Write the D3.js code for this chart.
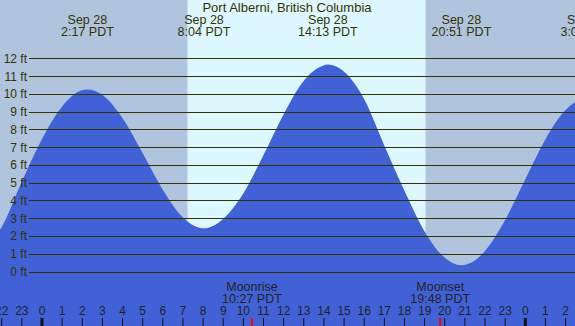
<!DOCTYPE html>
<html>
<head>
<meta charset="utf-8">
<script src="https://cdn.jsdelivr.net/npm/d3@7"></script>
<style>
  body { margin: 0; background: #fff; }
  svg { display: block; font-family: "Liberation Sans", Arial, sans-serif; }
</style>
</head>
<body>
<div class="chart"></div>
<script>
// tide heights (hours from midnight Sep 28, feet)
let tideHours = [-2.5, -2, -1, 0, 1, 2, 2.28, 3, 4, 5, 6, 7, 8.07, 9, 10, 11, 12, 13, 14, 14.22,
  15, 16, 17, 18, 19, 20, 20.85, 22, 23, 24, 25, 26, 27.08, 27.5];
let tideFeet = [1.7, 2.45, 5.0, 7.4, 9.25, 10.2, 10.25, 9.96, 8.67, 6.71, 4.65, 3.07, 2.43, 2.94, 4.35, 6.5, 8.8, 10.7, 11.6, 11.65,
  11.27, 9.75, 7.15, 4.6, 2.3, 0.8, 0.35, 1.12, 2.85, 5.13, 7.39, 9.06, 9.74, 9.6];

// high / low tide labels
let eventHours = [2.28, 8.07, 14.22, 20.85, 27.08];
let eventDates = ["Sep 28", "Sep 28", "Sep 28", "Sep 28", "Sep 29"];
let eventTimes = ["2:17 PDT", "8:04 PDT", "14:13 PDT", "20:51 PDT", "3:05 PDT"];

// sunrise / sunset
let daylight = [7.25, 19.07];

// moon
let moonHours = [10.45, 19.8];
let moonNames = ["Moonrise", "Moonset"];
let moonTimes = ["10:27 PDT", "19:48 PDT"];

let footTicks = d3.range(0, 13);
let hourTicks = d3.range(-2, 27);

let width = 575;
let height = 326;
let dark = "#333300";

let xScale = d3.scaleLinear().domain([-2, 26]).range([1.2, 565.1]);
let yScale = d3.scaleLinear().domain([0, 12]).range([271.5, 58.3]);

let svg = d3.select(".chart").append("svg")
  .attr("width", width)
  .attr("height", height);

// night / day background
svg.append("rect")
  .attr("width", width).attr("height", height)
  .attr("fill", "#b0c4de");

svg.append("rect")
  .attr("x", xScale(daylight[0]))
  .attr("width", xScale(daylight[1]) - xScale(daylight[0]))
  .attr("height", height)
  .attr("fill", "#ddf7ff");

// tide area
let area = d3.area()
  .x((d, i) => xScale(tideHours[i]))
  .y0(height)
  .y1(d => yScale(d))
  .curve(d3.curveMonotoneX);

svg.append("path")
  .datum(tideFeet)
  .attr("d", area)
  .attr("fill", "#4062d6");

// grid lines and foot labels
let grid = svg.append("g");
grid.selectAll("line")
  .data(footTicks)
  .enter()
  .append("line")
  .attr("x1", 29).attr("x2", width)
  .attr("y1", d => Math.round(yScale(d)) + 0.5)
  .attr("y2", d => Math.round(yScale(d)) + 0.5)
  .attr("stroke", dark)
  .attr("stroke-width", 1.2);

grid.selectAll("text")
  .data(footTicks)
  .enter()
  .append("text")
  .attr("x", 27)
  .attr("y", d => yScale(d) + 4.5)
  .attr("text-anchor", "end")
  .attr("font-size", 12)
  .attr("fill", dark)
  .text(d => d + " ft");

// title
svg.append("text")
  .attr("x", 287)
  .attr("y", 12)
  .attr("text-anchor", "middle")
  .attr("font-size", 13)
  .attr("fill", dark)
  .text("Port Alberni, British Columbia");

// high/low labels
let events = svg.selectAll(".event")
  .data(eventHours)
  .enter()
  .append("g")
  .attr("class", "event")
  .attr("transform", d => `translate(${xScale(d)},0)`);

events.append("text")
  .attr("y", 24)
  .attr("text-anchor", "middle")
  .attr("font-size", 12.5)
  .attr("fill", dark)
  .text((d, i) => eventDates[i]);

events.append("text")
  .attr("y", 36)
  .attr("text-anchor", "middle")
  .attr("font-size", 12.5)
  .attr("fill", dark)
  .text((d, i) => eventTimes[i]);

// hour axis along the bottom
let xAxis = svg.append("g")
  .attr("transform", `translate(0,${height})`)
  .call(
    d3.axisTop(xScale)
      .tickValues(hourTicks)
      .tickSize(8)
      .tickFormat(d => (d + 24) % 24)
  );

xAxis.select(".domain").remove();
xAxis.selectAll("text")
  .attr("font-family", "Liberation Sans, Arial, sans-serif")
  .attr("font-size", 12)
  .attr("fill", "#222");
xAxis.selectAll("line")
  .attr("stroke", "#111")
  .attr("stroke-width", d => (d % 24 === 0 ? 3 : 1));

// moonrise / moonset
let moon = svg.selectAll(".moon")
  .data(moonHours)
  .enter()
  .append("g")
  .attr("class", "moon")
  .attr("transform", d => `translate(${xScale(d)},0)`);

moon.append("line")
  .attr("y1", height - 8).attr("y2", height)
  .attr("stroke", "red")
  .attr("stroke-width", 2);

moon.append("text")
  .attr("y", 291)
  .attr("text-anchor", "middle")
  .attr("font-size", 12.5)
  .attr("fill", "#222")
  .text((d, i) => moonNames[i]);

moon.append("text")
  .attr("y", 303)
  .attr("text-anchor", "middle")
  .attr("font-size", 12.5)
  .attr("fill", "#222")
  .text((d, i) => moonTimes[i]);
</script>
</body>
</html>
